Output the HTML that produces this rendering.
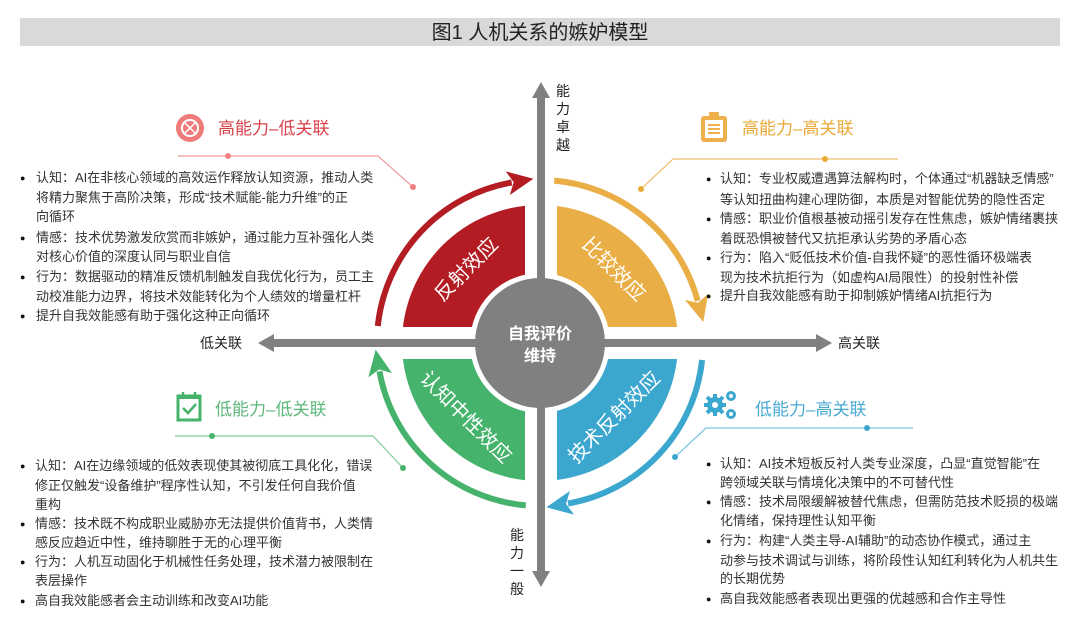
<!DOCTYPE html>
<html><head><meta charset="utf-8"><style>
html,body{margin:0;padding:0;background:#fff;}
svg{display:block;font-family:"Liberation Sans","Noto Sans CJK SC",sans-serif;}
.b{font-size:13px;fill:#333;}
.d{font-size:9px;fill:#111;}
</style></head><body>
<svg width="1080" height="631" viewBox="0 0 1080 631" xmlns="http://www.w3.org/2000/svg">
<defs>
<marker id="mr" markerUnits="userSpaceOnUse" markerWidth="30" markerHeight="30" refX="4" refY="12" orient="auto"><path d="M0,0 L26,12 L0,24 L6,12 Z" fill="#b41c24"/></marker>
<marker id="my" markerUnits="userSpaceOnUse" markerWidth="30" markerHeight="30" refX="4" refY="12" orient="auto"><path d="M0,0 L26,12 L0,24 L6,12 Z" fill="#e9ae45"/></marker>
<marker id="mb" markerUnits="userSpaceOnUse" markerWidth="30" markerHeight="30" refX="4" refY="12" orient="auto"><path d="M0,0 L26,12 L0,24 L6,12 Z" fill="#3ba7cf"/></marker>
<marker id="mg" markerUnits="userSpaceOnUse" markerWidth="30" markerHeight="30" refX="4" refY="12" orient="auto"><path d="M0,0 L26,12 L0,24 L6,12 Z" fill="#45b36b"/></marker>
</defs>
<rect x="20" y="18" width="1040" height="28" fill="#d9d9d9"/>
<text x="540" y="39" text-anchor="middle" font-size="20" fill="#222">图1  人机关系的嫉妒模型</text>

<path d="M402,343 A138,138 0 0 1 540,205 L540,273 A70,70 0 0 0 470,343 Z" fill="#b41c24"/>
<path d="M540,205 A138,138 0 0 1 678,343 L610,343 A70,70 0 0 0 540,273 Z" fill="#e9ae45"/>
<path d="M678,343 A138,138 0 0 1 540,481 L540,413 A70,70 0 0 0 610,343 Z" fill="#3ba7cf"/>
<path d="M540,481 A138,138 0 0 1 402,343 L470,343 A70,70 0 0 0 540,413 Z" fill="#45b36b"/>
<rect x="525" y="190" width="32" height="310" fill="#fff"/>
<rect x="390" y="327" width="300" height="32" fill="#fff"/>

<text x="466" y="276" transform="rotate(-45 466 269)" text-anchor="middle" font-size="20" fill="#fff">反射效应</text>
<text x="614" y="276" transform="rotate(45 614 269)" text-anchor="middle" font-size="20" fill="#fff">比较效应</text>
<text x="614" y="424" transform="rotate(-45 614 417)" text-anchor="middle" font-size="20" fill="#fff">技术反射效应</text>
<text x="466" y="424" transform="rotate(45 466 417)" text-anchor="middle" font-size="20" fill="#fff">认知中性效应</text>

<path d="M377.8,326 A163,163 0 0 1 511.7,182.5" fill="none" stroke="#b41c24" stroke-width="6" marker-end="url(#mr)"/>
<path d="M554.2,180.6 A163,163 0 0 1 697.6,300.8" fill="none" stroke="#e9ae45" stroke-width="6" marker-end="url(#my)"/>
<path d="M702.1,360 A163,163 0 0 1 568,503.5" fill="none" stroke="#3ba7cf" stroke-width="6" marker-end="url(#mb)"/>
<path d="M525.8,505.4 A163,163 0 0 1 379.5,371.3" fill="none" stroke="#45b36b" stroke-width="6" marker-end="url(#mg)"/>

<rect x="537" y="96" width="8" height="478" fill="#808080"/>
<path d="M541,82 L550,98 L532,98 Z" fill="#808080"/>
<path d="M541,587 L550,571 L532,571 Z" fill="#808080"/>
<rect x="270" y="339" width="550" height="8" fill="#808080"/>
<path d="M258,343 L274,334 L274,352 Z" fill="#808080"/>
<path d="M832,343 L816,334 L816,352 Z" fill="#808080"/>
<circle cx="540" cy="343" r="65" fill="#808080"/>
<text x="540" y="339" text-anchor="middle" font-size="16" font-weight="bold" fill="#fff">自我评价</text>
<text x="540" y="361" text-anchor="middle" font-size="16" font-weight="bold" fill="#fff">维持</text>

<g font-size="14" fill="#222" text-anchor="middle">
<text x="563" y="96">能</text><text x="563" y="114">力</text><text x="563" y="132">卓</text><text x="563" y="150">越</text>
<text x="517" y="540">能</text><text x="517" y="558">力</text><text x="517" y="576">一</text><text x="517" y="594">般</text>
</g>
<text x="200" y="348" font-size="14" fill="#222">低关联</text>
<text x="838" y="348" font-size="14" fill="#222">高关联</text>

<circle cx="190" cy="128" r="14" fill="#ef7b7b"/>
<circle cx="190" cy="128" r="8" fill="none" stroke="#fff" stroke-width="2"/>
<path d="M184,122 L196,134 M196,122 L184,134" stroke="#fff" stroke-width="1.5"/>
<text x="218" y="134" font-size="17" fill="#d9404a">高能力–低关联</text>
<polyline points="178,156 378,156 413,187" fill="none" stroke="#f29a9a" stroke-width="1.2"/>
<circle cx="228" cy="156" r="3" fill="#f08080"/><circle cx="413" cy="187" r="3" fill="#f08080"/>
<g class="b">
<text class="d" x="20" y="181">●</text><text x="36" y="182">认知：AI在非核心领域的高效运作释放认知资源，推动人类</text>
<text x="36" y="202">将精力聚焦于高阶决策，形成“技术赋能-能力升维”的正</text>
<text x="36" y="221">向循环</text>
<text class="d" x="20" y="241">●</text><text x="36" y="242">情感：技术优势激发欣赏而非嫉妒，通过能力互补强化人类</text>
<text x="36" y="261">对核心价值的深度认同与职业自信</text>
<text class="d" x="20" y="280">●</text><text x="36" y="281">行为：数据驱动的精准反馈机制触发自我优化行为，员工主</text>
<text x="36" y="301">动校准能力边界，将技术效能转化为个人绩效的增量杠杆</text>
<text class="d" x="20" y="319">●</text><text x="36" y="320">提升自我效能感有助于强化这种正向循环</text>
</g>

<rect x="701" y="116" width="26" height="26" rx="3" fill="#eeb04a"/>
<rect x="705" y="120" width="18" height="18" fill="#fff"/>
<rect x="709" y="112" width="10" height="7" rx="1" fill="#eeb04a"/>
<path d="M708,125 H720 M708,129 H720 M708,133 H720" stroke="#eeb04a" stroke-width="2"/>
<text x="742" y="134" font-size="17" fill="#eaa836">高能力–高关联</text>
<polyline points="641,189 673,159 898,159" fill="none" stroke="#f0c070" stroke-width="1.2"/>
<circle cx="641" cy="189" r="3" fill="#eaa836"/><circle cx="825" cy="159" r="3" fill="#eaa836"/>
<g class="b">
<text class="d" x="706" y="182">●</text><text x="720" y="183">认知：专业权威遭遇算法解构时，个体通过“机器缺乏情感”</text>
<text x="720" y="204">等认知扭曲构建心理防御，本质是对智能优势的隐性否定</text>
<text class="d" x="706" y="222">●</text><text x="720" y="223">情感：职业价值根基被动摇引发存在性焦虑，嫉妒情绪裹挟</text>
<text x="720" y="243">着既恐惧被替代又抗拒承认劣势的矛盾心态</text>
<text class="d" x="706" y="261">●</text><text x="720" y="262">行为：陷入“贬低技术价值-自我怀疑”的恶性循环极端表</text>
<text x="720" y="282">现为技术抗拒行为（如虚构AI局限性）的投射性补偿</text>
<text class="d" x="706" y="299">●</text><text x="720" y="300">提升自我效能感有助于抑制嫉妒情绪AI抗拒行为</text>
</g>

<rect x="178" y="396" width="22" height="24" fill="none" stroke="#45b36b" stroke-width="3"/>
<path d="M178,397 H200" stroke="#45b36b" stroke-width="4"/>
<path d="M183,392 V399 M195,392 V399" stroke="#45b36b" stroke-width="2.5"/>
<path d="M183,408 L188,413 L196,404" fill="none" stroke="#45b36b" stroke-width="2.5"/>
<text x="215" y="415" font-size="17" fill="#5cb87a">低能力–低关联</text>
<polyline points="175,436 373,436 403,468" fill="none" stroke="#7fcf99" stroke-width="1.2"/>
<circle cx="212" cy="436" r="3" fill="#45b36b"/><circle cx="403" cy="468" r="3" fill="#45b36b"/>
<g class="b">
<text class="d" x="20" y="469">●</text><text x="35" y="470">认知：AI在边缘领域的低效表现使其被彻底工具化化，错误</text>
<text x="35" y="490">修正仅触发“设备维护”程序性认知，不引发任何自我价值</text>
<text x="35" y="509">重构</text>
<text class="d" x="20" y="527">●</text><text x="35" y="528">情感：技术既不构成职业威胁亦无法提供价值背书，人类情</text>
<text x="35" y="547">感反应趋近中性，维持聊胜于无的心理平衡</text>
<text class="d" x="20" y="565">●</text><text x="35" y="566">行为：人机互动固化于机械性任务处理，技术潜力被限制在</text>
<text x="35" y="585">表层操作</text>
<text class="d" x="20" y="604">●</text><text x="35" y="605">高自我效能感者会主动训练和改变AI功能</text>
</g>

<g fill="#3ba7cf">
<circle cx="715" cy="405" r="8"/><circle cx="731" cy="396" r="5"/><circle cx="731" cy="414" r="5"/>
<path d="M715,394 v22 M704,405 h22 M707,397 l16,16 M723,397 l-16,16" stroke="#3ba7cf" stroke-width="4"/>
</g>
<circle cx="715" cy="405" r="3" fill="#fff"/><circle cx="731" cy="396" r="2" fill="#fff"/><circle cx="731" cy="414" r="2" fill="#fff"/>
<text x="755" y="415" font-size="17" fill="#49a9d3">低能力–高关联</text>
<polyline points="675,457 706,428 913,428" fill="none" stroke="#7cc4e2" stroke-width="1.2"/>
<circle cx="675" cy="457" r="3" fill="#3ba7cf"/><circle cx="867" cy="428" r="3" fill="#3ba7cf"/>
<g class="b">
<text class="d" x="706" y="467">●</text><text x="720" y="468">认知：AI技术短板反衬人类专业深度，凸显“直觉智能”在</text>
<text x="720" y="487">跨领域关联与情境化决策中的不可替代性</text>
<text class="d" x="706" y="505">●</text><text x="720" y="506">情感：技术局限缓解被替代焦虑，但需防范技术贬损的极端</text>
<text x="720" y="525">化情绪，保持理性认知平衡</text>
<text class="d" x="706" y="544">●</text><text x="720" y="545">行为：构建“人类主导-AI辅助”的动态协作模式，通过主</text>
<text x="720" y="565">动参与技术调试与训练，将阶段性认知红利转化为人机共生</text>
<text x="720" y="583">的长期优势</text>
<text class="d" x="706" y="602">●</text><text x="720" y="603">高自我效能感者表现出更强的优越感和合作主导性</text>
</g>
</svg>
</body></html>
